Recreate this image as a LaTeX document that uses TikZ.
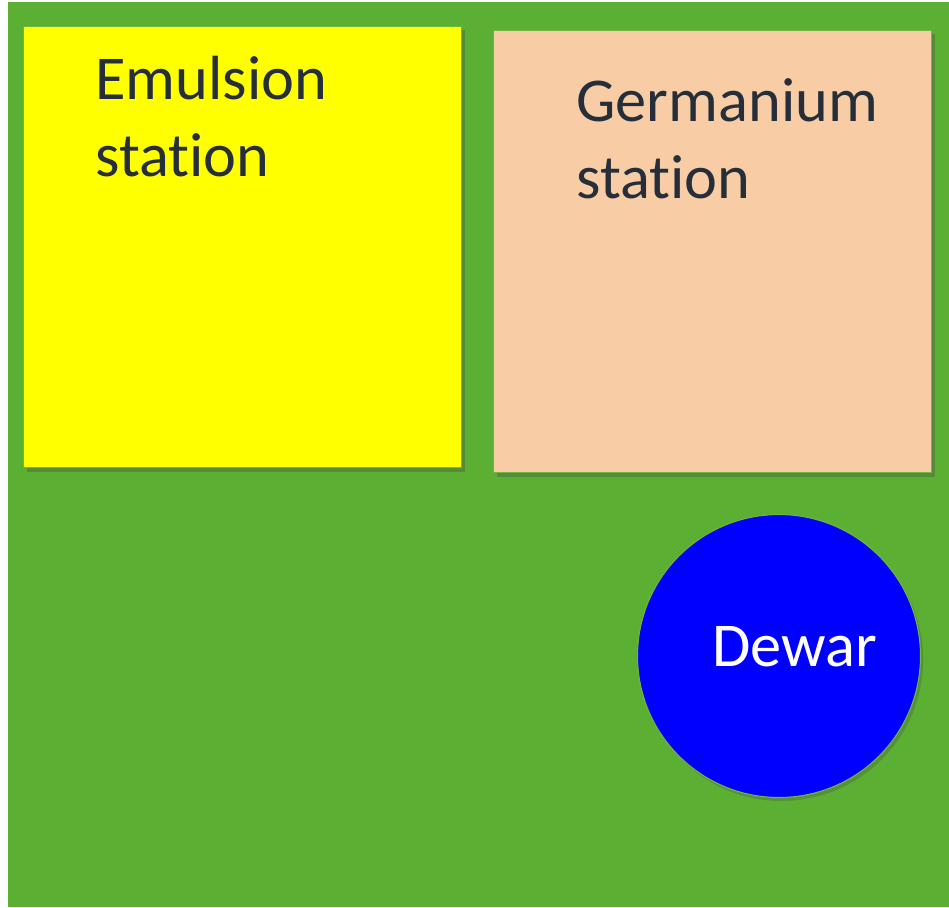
\documentclass[tikz,border=0pt]{standalone}
\usepackage{fontspec}
\setmainfont{Carlito}[Ligatures=NoCommon]
\usetikzlibrary{shadows}

\definecolor{fieldgreen}{RGB}{91,175,50}
\definecolor{edgegreen}{RGB}{110,185,60}
\definecolor{peach}{RGB}{248,205,166}
\definecolor{lemon}{RGB}{255,255,0}
\definecolor{inkgray}{RGB}{38,46,58}

\tikzset{
  station/.style={draw=edgegreen, line width=0.6pt, inner sep=0pt,
    minimum width=8.78cm, minimum height=8.84cm,
    drop shadow={shadow xshift=2pt, shadow yshift=-2.5pt, opacity=0.35, fill=black!70}},
  stationtext/.style={anchor=base west, inner sep=0pt, align=left, text=inkgray,
    font=\fontsize{35.5}{43.5}\selectfont}
}

\begin{document}
\begin{tikzpicture}[x=0.02cm,y=-0.02cm]
  \useasboundingbox (0,0) rectangle (949,907);
  \fill[fieldgreen] (8,2) rectangle (949,907);
  % the two stations
  \node[station, fill=lemon] (emulsion) at (242.5,247) {};
  \node[station, fill=peach, minimum height=8.86cm] (germanium) at (712.5,251.5) {};
  \node[stationtext] (emultext) at (95,176) {Emulsion\\station};
  \node[stationtext] (germtext) at (576,198) {Germanium\\station};
  % dewar
  \node[circle, draw=edgegreen, line width=0.6pt, fill=blue, minimum size=5.66cm, inner sep=0pt,
    drop shadow={shadow xshift=1.5pt, shadow yshift=-2pt, opacity=0.3, fill=black!70}] (dewar) at (779,656) {};
  \node[anchor=base west, inner sep=0pt, text=white, font=\fontsize{35.5}{43.5}\selectfont] (dewartext) at (712,666) {Dewar};
\end{tikzpicture}
\end{document}
